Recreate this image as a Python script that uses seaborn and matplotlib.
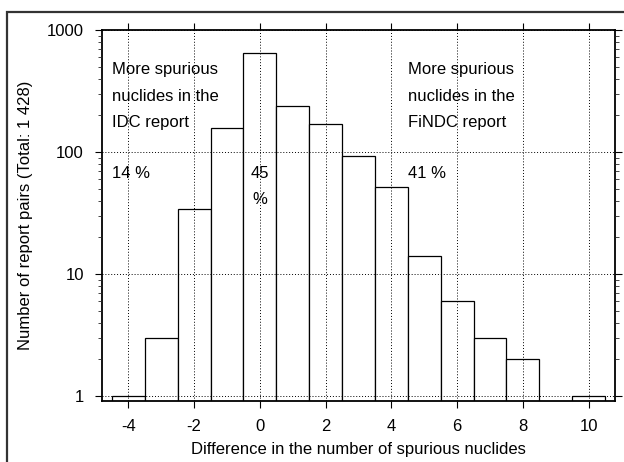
import matplotlib
matplotlib.use("Agg")
import matplotlib.pyplot as plt
import matplotlib.patches as mpatches
import seaborn as sns
import pandas as pd

# data
differences = [-4, -3, -2, -1, 0, 1, 2, 3, 4, 5, 6, 7, 8, 10]
counts = [1, 3, 34, 156, 645, 240, 170, 93, 52, 14, 6, 3, 2, 1]
x_ticks = [-4, -2, 0, 2, 4, 6, 8, 10]
y_ticks = [1, 10, 100, 1000]
y_tick_labels = ["1", "10", "100", "1000"]
left_text = "More spurious\nnuclides in the\nIDC report"
right_text = "More spurious\nnuclides in the\nFiNDC report"
pct_left, pct_mid, pct_right = "14 %", "45\n%", "41 %"

sns.set_theme(style="ticks")
plt.rcParams["font.family"] = ["Liberation Sans", "DejaVu Sans"]
plt.rcParams["font.size"] = 12
plt.rcParams["text.color"] = "black"
plt.rcParams["axes.labelcolor"] = "black"

df = pd.DataFrame({"diff": differences, "count": counts})

fig = plt.figure(figsize=(6.24, 4.62), dpi=100)
ax = fig.add_axes([102 / 624, 1 - 401 / 462, 513 / 624, 371 / 462])

sns.barplot(data=df, x="diff", y="count", native_scale=True, width=1,
            color="white", edgecolor="black", linewidth=0.9, errorbar=None,
            saturation=1, ax=ax)
ax.set_yscale("log")
ax.set_ylim(0.91, 1000)
ax.set_xlim(-4.8, 10.8)
ax.set_xticks(x_ticks)
ax.set_xticklabels([str(v) for v in x_ticks])
ax.set_yticks(y_ticks)
ax.set_yticklabels(y_tick_labels)

ax.set_axisbelow(False)
ax.grid(True, which="major", linestyle=(0, (1, 2)), color="black", linewidth=0.7)
ax.grid(False, which="minor")

for s in ax.spines.values():
    s.set_visible(True)
    s.set_linewidth(1.3)
    s.set_color("black")

ax.tick_params(axis="both", which="major", direction="out", length=5, width=0.8,
               pad=8, labelsize=12, colors="black")
ax.tick_params(axis="x", top=True, labeltop=False)
ax.tick_params(axis="y", right=True, labelright=False)
ax.tick_params(axis="y", which="minor", direction="out", length=3, width=0.6,
               left=True, right=True)

ax.set_xlabel("Difference in the number of spurious nuclides", fontsize=12,
              color="black")
ax.set_ylabel("Number of report pairs (Total: 1 428)", fontsize=12,
              color="black")
ax.xaxis.set_label_coords(0.5, -0.11)
ax.yaxis.set_label_coords(-0.134, 0.5)

trans = ax.get_xaxis_transform()
ax.text(-4.5, 0.914, left_text, transform=trans, ha="left", va="top",
        fontsize=12, linespacing=1.97, color="black")
ax.text(4.5, 0.914, right_text, transform=trans, ha="left", va="top",
        fontsize=12, linespacing=1.97, color="black")
ax.text(-4.5, 0.634, pct_left, transform=trans, ha="left", va="top",
        fontsize=12, color="black")
ax.text(0, 0.634, pct_mid, transform=trans, ha="center", va="top",
        fontsize=12, linespacing=1.97, color="black")
ax.text(4.5, 0.634, pct_right, transform=trans, ha="left", va="top",
        fontsize=12, color="black")

frame = mpatches.Rectangle((7 / 624, -0.1), 1.2, 1 - 12 / 462 + 0.1,
                           transform=fig.transFigure, fill=False,
                           edgecolor="#333333", linewidth=1.6, clip_on=False)
fig.patches.append(frame)

fig.savefig("out.png", dpi=100)
